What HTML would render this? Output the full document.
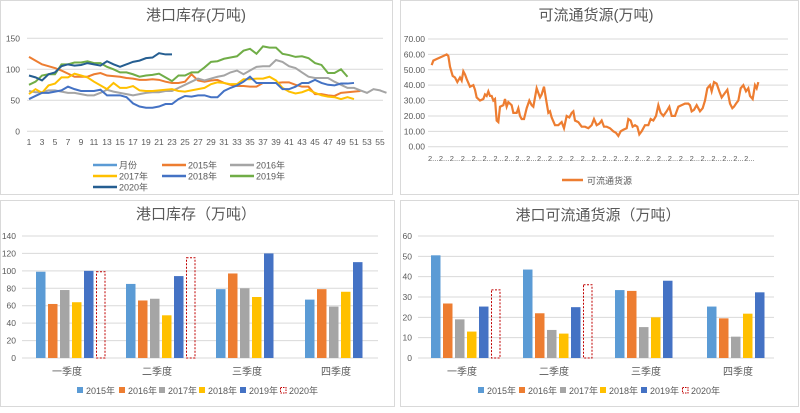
<!DOCTYPE html>
<html><head><meta charset="utf-8"><style>
body{margin:0;background:#fff;width:800px;height:408px;overflow:hidden;font-family:"Liberation Sans","Noto Sans CJK SC",sans-serif}
svg text{font-family:"Liberation Sans","Noto Sans CJK SC",sans-serif;fill:#595959}
</style></head><body>
<svg id="s" width="800" height="408" xmlns="http://www.w3.org/2000/svg">
<rect width="800" height="408" fill="#fff"/>
<rect x="0.5" y="0.5" width="392" height="194" fill="none" stroke="#d9d9d9"/>
<rect x="400.5" y="0.5" width="398" height="194" fill="none" stroke="#d9d9d9"/>
<rect x="0.5" y="200.5" width="394" height="206" fill="none" stroke="#d9d9d9"/>
<rect x="400.5" y="200.5" width="398" height="206" fill="none" stroke="#d9d9d9"/>
<text x="196" y="20" font-size="15" text-anchor="middle">港口库存(万吨)</text>
<text x="596" y="20" font-size="15" text-anchor="middle">可流通货源(万吨)</text>
<text x="196" y="219" font-size="15" text-anchor="middle">港口库存（万吨）</text>
<text x="598" y="220" font-size="15" text-anchor="middle">港口可流通货源（万吨）</text>
<g id="g"></g>
</svg>
<script>
var g=document.getElementById('g'),h='';
function L(x1,y1,x2,y2,c,w,d){h+='<line x1="'+x1+'" y1="'+y1+'" x2="'+x2+'" y2="'+y2+'" stroke="'+c+'" stroke-width="'+(w||1)+'"'+(d?' stroke-dasharray="'+d+'"':'')+'/>';}
function T(x,y,t,s,a){h+='<text x="'+x+'" y="'+y+'" font-size="'+s+'" text-anchor="'+(a||'start')+'">'+t+'</text>';}
// top-left
for(var v=0;v<=150;v+=50){var y=131.3-v*0.62;L(27,y,383,y,'#d9d9d9');T(20,y+3,v,8.5,'end');}
for(var n=1;n<=55;n+=2)T(29+(n-1)*6.5,145,n,8.5,'middle');
var S=[['#ed7d31',[120,114,108,105,102,98,93,88,88,88,92,94,90,89,88,86,85,83,83,84,83,80,78,78,80,92,82,80,82,83,78,75,73,73,72,72,78,78,78,79,79,75,72,72,60,60,58,57,62,63,64,65]],
['#a5a5a5',[65,63,63,66,66,64,62,62,60,58,58,62,67,64,62,60,58,60,62,63,63,65,65,70,75,80,85,82,85,88,90,95,98,92,98,104,105,105,115,112,105,102,95,88,86,86,86,80,75,70,70,66,62,68,66,62]],
['#ffc000',[60,68,62,74,77,87,87,93,90,87,80,74,68,78,70,70,73,66,65,65,66,67,68,65,64,66,68,70,76,79,78,76,76,84,84,85,85,88,82,70,64,61,63,67,62,58,56,55,52,55,52]],
['#4472c4',[52,57,62,62,64,66,72,68,65,65,65,67,58,58,58,55,45,40,38,38,40,44,44,52,57,56,58,58,55,55,65,70,74,80,88,78,78,78,78,68,68,72,78,78,83,78,75,74,77,77,78]],
['#70ad47',[75,80,90,92,92,108,108,111,111,113,110,110,104,100,95,95,92,88,90,91,93,87,81,90,90,95,95,103,112,113,117,119,121,130,133,125,137,135,135,125,123,120,121,118,110,107,94,94,100,88]],
['#255e91',[90,87,82,92,95,105,108,106,107,110,108,106,113,108,104,108,112,114,118,119,126,124,124]]];
S.forEach(function(s){h+='<polyline fill="none" stroke="'+s[0]+'" stroke-width="2" points="'+s[1].map(function(v,i){return (29+i*6.5)+','+(131.3-v*0.62)}).join(' ')+'"/>';});
var lg=[['#5b9bd5','月份',93,165],['#ed7d31','2015年',162,165],['#a5a5a5','2016年',230,165],['#ffc000','2017年',93,176],['#4472c4','2018年',162,176],['#70ad47','2019年',230,176],['#255e91','2020年',93,187]];
lg.forEach(function(a){L(a[2],a[3],a[2]+24,a[3],a[0],2.5);T(a[2]+26,a[3]+3.5,a[1],9);});
// top-right
for(v=0;v<=70;v+=10){y=146.7-v*1.538;L(428,y,788,y,'#d9d9d9');T(425,y+3,v.toFixed(2),8.5,'end');}
for(var i=0;i<30;i++)T(428+i*10.9,161,'2...',7.5);
var P=[[95,53],[100,56],[110,57],[120,58],[130,59],[140,60],[145,59],[150,52],[158,46],[165,45],[172,42],[180,45],[185,43],[190,49],[195,47],[200,44],[210,39],[220,40],[225,37],[230,32],[240,30],[250,31],[255,34],[260,33],[265,36],[270,33],[275,33],[280,30],[285,31],[290,17],[295,16],[300,26],[310,27],[315,31],[320,26],[325,29],[335,27],[340,22],[350,22],[355,25],[360,20],[365,18],[372,18],[380,25],[388,30],[395,27],[400,26],[405,32],[410,38],[415,35],[420,32],[425,34],[432,39],[438,31],[445,22],[450,23],[455,19],[465,14],[475,14],[485,16],[492,12],[500,20],[508,19],[515,22],[520,23],[525,17],[535,16],[545,13],[555,13],[565,12],[575,14],[582,18],[590,14],[598,15],[605,17],[612,13],[620,13],[630,12],[640,10],[648,9],[655,7],[662,10],[670,11],[680,12],[685,18],[692,17],[698,13],[705,14],[712,13],[718,8],[725,10],[735,14],[745,14],[752,18],[760,17],[768,20],[775,27],[782,22],[790,20],[800,23],[808,26],[815,20],[825,20],[835,26],[845,27],[855,28],[865,28],[870,27],[875,23],[882,24],[890,27],[900,23],[908,25],[915,30],[922,38],[930,40],[935,36],[942,42],[950,41],[958,36],[965,32],[975,35],[982,37],[990,28],[997,25],[1002,26],[1008,28],[1015,30],[1022,38],[1030,40],[1038,36],[1045,38],[1050,33],[1058,31],[1065,40],[1070,38],[1075,42]];
h+='<polyline fill="none" stroke="#ed7d31" stroke-width="2.2" points="'+P.map(function(p){return (400+p[0]/3)+','+(146.7-p[1]*1.538)}).join(' ')+'"/>';
L(562,180,583,180,'#ed7d31',2.5);T(587,184,'可流通货源',9);
// bars
var C=['#5b9bd5','#ed7d31','#a5a5a5','#ffc000','#4472c4'];
function bars(x0,gx,top,sc,ymax,step,data,gs,lx){
 for(v=0;v<=ymax;v+=step){y=358-v*sc;L(x0-6,y,x0+350,y,'#d9d9d9');T(x0-12,y+3,v,8.5,'end');}
 var q=['一季度','二季度','三季度','四季度'];
 data.forEach(function(d,k){var bx=gs[k];d.forEach(function(v,j){var x=bx+j*12,hh=v*sc;
  if(j<5)h+='<rect x="'+x+'" y="'+(358-hh)+'" width="9.5" height="'+hh+'" fill="'+C[j]+'"/>';
  else h+='<rect x="'+(x+0.5)+'" y="'+(358-hh)+'" width="8.5" height="'+hh+'" fill="none" stroke="#c00000" stroke-width="1" stroke-dasharray="2,1.5"/>';});
  T(bx+31,375,q[k],10,'middle');});
 var yl=['2015年','2016年','2017年','2018年','2019年','2020年'];
 lx.forEach(function(x,j){if(j<5)h+='<rect x="'+x+'" y="387" width="6" height="6" fill="'+C[j]+'"/>';else h+='<rect x="'+(x+0.5)+'" y="387.5" width="5.5" height="5.5" fill="none" stroke="#c00000" stroke-dasharray="1.5,1"/>';T(x+9,394,yl[j],9);});
}
bars(28,0,0,122/140,140,20,[[99,62,78,64,100,99],[85,66,68,49,94,115],[79,97,80,70,120],[67,79,59,76,110]],[36,126,216,305],[77,119,159,199,240,280]);
bars(424,0,0,122/60,60,10,[[50.5,26.8,19,13,25.3,33.5],[43.5,22,13.8,12,25,36],[33.4,33,15.2,20,38],[25.3,19.5,10.5,21.8,32.3]],[431,523,615,707],[478,519,560,600,641,682]);
g.innerHTML=h;
</script>
</body></html>
